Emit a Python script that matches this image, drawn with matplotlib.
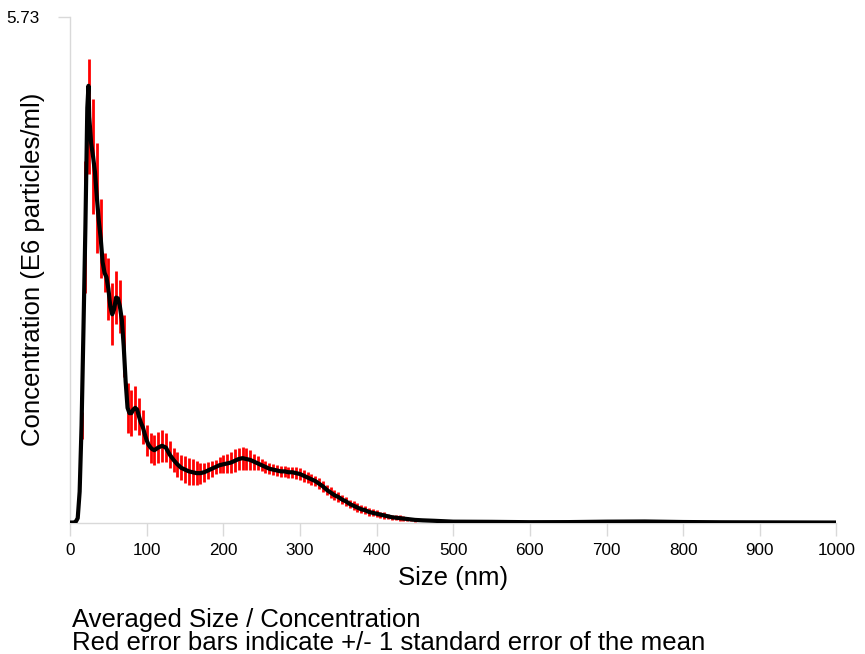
import numpy as np
import matplotlib
matplotlib.use("Agg")
import matplotlib.pyplot as plt

plt.rcParams['font.family'] = ['Liberation Sans', 'DejaVu Sans']

# size (nm) and averaged concentration (E6 particles/ml)
size = [0, 2.5, 5, 7.5, 10, 12.5, 15, 17.5, 20, 22.5, 24, 25, 27.5, 30, 32.5, 35,
        37.5, 40, 42.5, 45, 47.5, 50, 52.5, 55, 57.5, 60, 62.5, 65, 67.5, 70,
        72.5, 75, 77.5, 80, 82.5, 85, 87.5, 90, 92.5, 95, 97.5, 100, 102.5, 105,
        107.5, 110, 115, 120, 125, 130, 135, 140, 145, 150, 155, 160, 165, 170,
        175, 180, 185, 190, 195, 200, 205, 210, 215, 220, 225, 230, 235, 240,
        245, 250, 255, 260, 265, 270, 275, 280, 285, 290, 295, 300, 305, 310,
        315, 320, 325, 330, 335, 340, 345, 350, 355, 360, 365, 370, 375, 380,
        385, 390, 395, 400, 405, 410, 415, 420, 425, 430, 435, 440, 445, 450,
        460, 475, 500, 550, 600, 650, 700, 750, 800, 850, 900, 950, 1000]
conc = [0.0, 0.0, 0.0, 0.01, 0.05, 0.35, 1.10, 2.20, 3.35, 4.70, 4.95, 4.60, 4.30, 4.15, 3.97, 3.68,
        3.42, 3.22, 2.95, 2.83, 2.78, 2.65, 2.45, 2.36, 2.42, 2.55, 2.54, 2.45, 2.30, 2.00,
        1.60, 1.30, 1.24, 1.24, 1.28, 1.30, 1.28, 1.20, 1.13, 1.08, 1.00, 0.93, 0.88, 0.85,
        0.83, 0.82, 0.85, 0.87, 0.85, 0.77, 0.71, 0.66, 0.62, 0.60, 0.58, 0.57, 0.56, 0.56,
        0.57, 0.59, 0.61, 0.63, 0.65, 0.66, 0.67, 0.68, 0.70, 0.72, 0.73, 0.72, 0.71, 0.69,
        0.67, 0.65, 0.63, 0.61, 0.60, 0.59, 0.58, 0.58, 0.57, 0.57, 0.56, 0.55, 0.53, 0.51,
        0.49, 0.47, 0.44, 0.41, 0.37, 0.34, 0.31, 0.29, 0.26, 0.24, 0.21, 0.19, 0.17, 0.15,
        0.14, 0.12, 0.11, 0.10, 0.09, 0.08, 0.07, 0.06, 0.055, 0.05, 0.045, 0.04, 0.035, 0.03,
        0.025, 0.02, 0.01, 0.008, 0.004, 0.005, 0.01, 0.012, 0.006, 0.003, 0.002, 0.001, 0.0]
# +/- 1 standard error, only at 5 nm steps
sem = [0, 0, 0, 0, 0, 0, 0.15, 0, 0.75, 0, 0, 0.65, 0, 0.65, 0, 0.62,
       0, 0.45, 0, 0.22, 0, 0.35, 0, 0.35, 0, 0.30, 0, 0.30, 0, 0.35,
       0, 0.28, 0, 0.26, 0, 0.25, 0, 0.21, 0, 0.19, 0, 0.18, 0, 0.17,
       0, 0.17, 0.18, 0.18, 0.16, 0.15, 0.14, 0.14, 0.14, 0.15, 0.15, 0.15, 0.14, 0.12,
       0.11, 0.10, 0.09, 0.08, 0.09, 0.10, 0.11, 0.12, 0.13, 0.13, 0.13, 0.12, 0.11, 0.09,
       0.08, 0.07, 0.07, 0.065, 0.065, 0.065, 0.065, 0.065, 0.065, 0.065, 0.065, 0.065, 0.065, 0.065,
       0.06, 0.06, 0.06, 0.06, 0.06, 0.06, 0.06, 0.06, 0.05, 0.05, 0.05, 0.05, 0.05, 0.045,
       0.045, 0.045, 0.04, 0.04, 0.035, 0.035, 0.03, 0.03, 0.03, 0.03, 0.025, 0.025, 0.02, 0.02,
       0, 0, 0, 0, 0, 0, 0, 0, 0, 0, 0, 0, 0]

x_ticks = [0, 100, 200, 300, 400, 500, 600, 700, 800, 900, 1000]
y_max = 5.73

size = np.array(size)
conc = np.array(conc)
sem = np.array(sem)
has_err = sem > 0

fig = plt.figure(figsize=(8.65, 6.54), dpi=100)
ax = fig.add_axes([0.081, 0.201, 0.886, 0.773])

ax.errorbar(size[has_err], conc[has_err], yerr=sem[has_err], fmt='none',
            ecolor='#ff0000', elinewidth=2.0, capsize=0, zorder=2)
ax.plot(size, conc, color='black', linewidth=3, zorder=3)

ax.set_xlim(0, 1000)
ax.set_ylim(0, y_max)
ax.set_xticks(x_ticks)
ax.set_yticks([y_max])
ax.set_yticklabels(['5.73'])

for side in ['top', 'right']:
    ax.spines[side].set_visible(False)
for side in ['left', 'bottom']:
    ax.spines[side].set_color('#d9d9d9')
    ax.spines[side].set_linewidth(1)
ax.tick_params(axis='both', direction='out', length=9, width=1, color='#d9d9d9',
               labelsize=12.3)
ax.tick_params(axis='x', pad=6)
ax.tick_params(axis='y', pad=13)

ax.set_xlabel('Size (nm)', fontsize=18.5)
ax.xaxis.set_label_coords(0.5, -0.085)
ax.set_ylabel('Concentration (E6 particles/ml)', fontsize=18.5, va='center')
ax.yaxis.set_label_coords(-0.048, 0.5)

fig.text(0.083, 0.052, 'Averaged Size / Concentration', fontsize=18.5, ha='left', va='center')
fig.text(0.083, 0.017, 'Red error bars indicate +/- 1 standard error of the mean',
         fontsize=18.5, ha='left', va='center')

fig.savefig('out.png', dpi=100)
